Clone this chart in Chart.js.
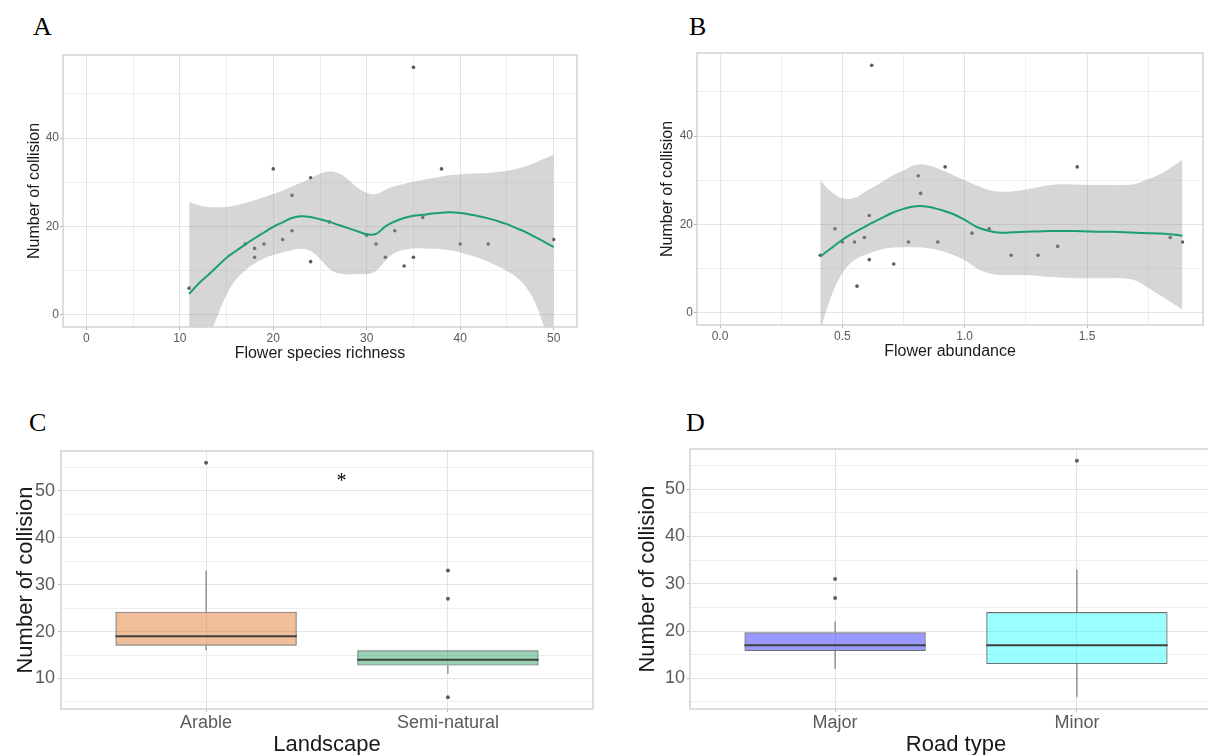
<!DOCTYPE html>
<html>
<head>
<meta charset="utf-8">
<title>Number of collisions</title>
<script src="https://cdn.jsdelivr.net/npm/chart.js@4.4.1/dist/chart.umd.min.js"></script>
<style>
  html, body { margin: 0; padding: 0; background: #fff; width: 1208px; height: 755px; overflow: hidden; position: relative; }
  .panel { position: absolute; }
  .tag { position: absolute; font: 26px "Liberation Serif", "Times New Roman", serif; line-height: 1; color: #000; }
</style>
</head>
<body>
<div class="tag" style="left:33px;top:14px">A</div>
<div class="tag" style="left:689px;top:14px">B</div>
<div class="tag" style="left:29px;top:410px">C</div>
<div class="tag" style="left:686px;top:410px">D</div>

<div class="panel" style="left:0;top:0"><canvas id="chartA" width="604" height="377"></canvas></div>
<div class="panel" style="left:604px;top:0"><canvas id="chartB" width="604" height="377"></canvas></div>
<div class="panel" style="left:0;top:377px"><canvas id="chartC" width="604" height="385"></canvas></div>
<div class="panel" style="left:604px;top:377px"><canvas id="chartD" width="622" height="385"></canvas></div>

<script>
const FONT = '"Liberation Sans", Arial, sans-serif';

// A: collisions against flower species richness, with loess fit and 95% band
const richness = [11, 17, 18, 18, 19, 20, 21, 22, 22, 24, 24, 26, 30, 31, 32, 33, 34, 35, 35, 36, 38, 40, 43, 50];
const richnessCollisions = [6, 16, 15, 13, 16, 33, 17, 27, 19, 31, 12, 21, 18, 16, 13, 19, 11, 56, 13, 22, 33, 16, 16, 17];
const richnessFitX = [11, 12, 13, 14, 15, 16, 17, 18, 19, 20, 21, 22, 23, 24, 25, 26, 27, 28, 29, 30,
  31, 32, 33, 34, 35, 36, 37, 38, 39, 40, 41, 42, 43, 44, 45, 46, 47, 48, 49, 50];
const richnessFit = [4.7, 7.0, 8.9, 10.9, 12.9, 14.4, 15.9, 17.3, 18.6, 19.9, 20.9, 21.9, 22.3, 22.1, 21.6, 21.0, 20.3, 19.6, 18.9, 18.2,
  18.3, 20.0, 21.1, 21.9, 22.4, 22.6, 22.9, 23.1, 23.2, 23.0, 22.7, 22.3, 21.8, 21.2, 20.5, 19.6, 18.7, 17.6, 16.5, 15.3];
const richnessUpper = [25.5, 24.8, 24.4, 24.3, 24.4, 24.8, 25.3, 25.9, 26.6, 27.3, 28.1, 29.0, 29.9, 30.9, 31.9, 32.4, 32.0, 30.6, 28.8, 27.6,
  27.3, 28.3, 29.1, 29.6, 30.1, 30.5, 30.9, 31.3, 31.6, 31.8, 31.9, 32.0, 32.1, 32.3, 32.6, 33.0, 33.6, 34.4, 35.3, 36.2];
const richnessLower = [-20, -12, -6, -0.5, 4.5, 7.9, 10.0, 11.6, 12.7, 13.5, 14.1, 14.6, 14.9, 14.4, 12.6, 10.4, 9.3, 9.1, 9.2, 9.2,
  9.9, 12.2, 14.0, 14.7, 15.0, 15.0, 14.9, 14.8, 14.5, 14.1, 13.5, 12.8, 12.0, 11.0, 9.9, 8.5, 6.3, 2.8, -3.0, -10];
const richnessTicks = [0, 10, 20, 30, 40, 50];
const richnessGrid = [0, 5, 10, 15, 20, 25, 30, 35, 40, 45, 50];

// B: collisions against flower abundance
const abundance = [0.41, 0.47, 0.50, 0.55, 0.56, 0.59, 0.61, 0.61, 0.62, 0.71, 0.77, 0.81, 0.82, 0.89, 0.92,
  1.03, 1.10, 1.19, 1.30, 1.38, 1.46, 1.84, 1.89];
const abundanceCollisions = [13, 19, 16, 16, 6, 17, 22, 12, 56, 11, 16, 31, 27, 16, 33, 18, 19, 13, 13, 15, 33, 17, 16];
const abundanceFitX = [0.41, 0.45, 0.50, 0.55, 0.60, 0.65, 0.70, 0.75, 0.80, 0.85, 0.90, 0.95, 1.00, 1.05, 1.10, 1.15,
  1.20, 1.25, 1.30, 1.35, 1.40, 1.45, 1.50, 1.55, 1.60, 1.65, 1.70, 1.75, 1.80, 1.85, 1.89];
const abundanceFit = [12.7, 14.4, 16.5, 18.2, 19.7, 21.1, 22.5, 23.5, 24.1, 24.0, 23.3, 22.4, 21.0, 19.4, 18.5, 18.1,
  18.2, 18.3, 18.4, 18.5, 18.5, 18.5, 18.4, 18.3, 18.3, 18.2, 18.1, 18.0, 17.9, 17.7, 17.4];
const abundanceUpper = [30.0, 27.6, 25.9, 26.0, 27.6, 29.2, 30.9, 32.2, 33.5, 33.4, 32.4, 31.2, 30.0, 28.8, 27.8, 27.4,
  27.5, 27.9, 28.4, 28.9, 29.1, 29.0, 28.9, 28.9, 28.9, 28.9, 29.2, 30.2, 31.4, 33.1, 34.6];
const abundanceLower = [-4, 3.0, 8.9, 11.9, 13.2, 14.2, 14.7, 14.8, 14.8, 14.6, 14.1, 13.1, 11.9, 10.0, 8.9, 8.5,
  8.5, 8.5, 8.3, 8.1, 7.9, 7.8, 7.8, 7.8, 7.8, 7.8, 7.2, 5.6, 3.9, 2.1, 0.6];
const abundanceTicks = [0, 0.5, 1, 1.5];
const abundanceGrid = [0, 0.25, 0.5, 0.75, 1, 1.25, 1.5, 1.75];

const collisionTicks = [0, 20, 40];
const collisionGrid = [0, 10, 20, 30, 40, 50];

// C: landscape boxplots
const landscapes = ['Arable', 'Semi-natural'];
const landQ1 = [17, 12.75];
const landMedian = [19, 14];
const landQ3 = [24.25, 16];
const landWhiskerLow = [16, 11];
const landWhiskerHigh = [33, 16];
const landOutliers = [[56], [33, 27, 6]];
const landSignif = { x: 1.56, y: 52, text: '*' };

// D: road type boxplots
const roadTypes = ['Major', 'Minor'];
const roadQ1 = [15.75, 13];
const roadMedian = [17, 17];
const roadQ3 = [19.75, 24];
const roadWhiskerLow = [12, 6];
const roadWhiskerHigh = [22, 33];
const roadOutliers = [[31, 27], [56]];

const boxTicks = [10, 20, 30, 40, 50];
const boxGrid = [5, 10, 15, 20, 25, 30, 35, 40, 45, 50, 55];

const pairs = (xs, ys) => xs.map((x, i) => ({ x, y: ys[i] }));

// linear axis with ggplot-like major/minor grid
function axis({ min, max, lines, labelled, format, title, tickSize, titleSize, size, pad }) {
  return {
    type: 'linear', min, max, offset: false,
    afterBuildTicks: s => { s.ticks = lines.map(value => ({ value })); },
    afterFit: s => { if (s.isHorizontal()) s.height = size; else s.width = size; },
    border: { display: false },
    grid: {
      offset: false,
      lineWidth: 1,
      tickLength: 3,
      color: c => labelled.includes(c.tick.value) ? '#e4e4e4' : '#efefef',
      tickColor: c => labelled.includes(c.tick.value) ? '#b8b8b8' : 'rgba(0,0,0,0)'
    },
    ticks: {
      autoSkip: false, maxRotation: 0, minRotation: 0, padding: pad,
      color: '#5a5a5a', font: { family: FONT, size: tickSize },
      callback: v => labelled.includes(v) ? format(v) : ''
    },
    title: { display: true, text: title, padding: 0, color: '#1a1a1a', font: { family: FONT, size: titleSize } }
  };
}

const panelBorder = {
  id: 'panelBorder',
  afterDatasetsDraw(chart) {
    const { ctx, chartArea: a } = chart;
    ctx.save();
    ctx.strokeStyle = '#d2d2d2';
    ctx.lineWidth = 1.5;
    ctx.strokeRect(a.left, a.top, a.right - a.left, a.bottom - a.top);
    ctx.restore();
  }
};

const medianLines = {
  id: 'medianLines',
  afterDatasetsDraw(chart) {
    const { ctx } = chart;
    const y = chart.scales.y;
    chart.data.datasets.forEach((ds, i) => {
      if (!ds.medians) return;
      ctx.save();
      ctx.strokeStyle = '#3f3f3f';
      ctx.lineWidth = 2;
      chart.getDatasetMeta(i).data.forEach((bar, j) => {
        const py = y.getPixelForValue(ds.medians[j]);
        ctx.beginPath();
        ctx.moveTo(bar.x - bar.width / 2, py);
        ctx.lineTo(bar.x + bar.width / 2, py);
        ctx.stroke();
      });
      ctx.restore();
    });
  }
};

const signifMark = {
  id: 'signifMark',
  afterDatasetsDraw(chart, args, opts) {
    if (!opts.text) return;
    const { ctx, scales } = chart;
    ctx.save();
    ctx.fillStyle = '#000';
    ctx.font = '20px "Liberation Serif", serif';
    ctx.textAlign = 'center';
    ctx.textBaseline = 'middle';
    ctx.fillText(opts.text, scales.x.getPixelForValue(opts.x), scales.y.getPixelForValue(opts.y));
    ctx.restore();
  }
};

function smoothChart(id, cfg) {
  return new Chart(document.getElementById(id), {
    type: 'scatter',
    data: {
      datasets: [
        { type: 'line', data: pairs(cfg.fitX, cfg.fit), borderColor: '#1b9e77', borderWidth: 2, pointRadius: 0, tension: 0.4, fill: false },
        { type: 'line', data: pairs(cfg.fitX, cfg.upper), borderColor: 'rgba(0,0,0,0)', borderWidth: 0, pointRadius: 0, tension: 0.4,
          fill: '+1', backgroundColor: 'rgba(153,153,153,0.4)' },
        { type: 'line', data: pairs(cfg.fitX, cfg.lower), borderColor: 'rgba(0,0,0,0)', borderWidth: 0, pointRadius: 0, tension: 0.4, fill: false },
        { data: pairs(cfg.x, cfg.y), pointRadius: 1.8, backgroundColor: '#5a5a5a', borderWidth: 0 }
      ]
    },
    options: {
      responsive: false, animation: false, events: [],
      layout: { padding: cfg.padding },
      plugins: { legend: { display: false }, tooltip: { enabled: false } },
      scales: { x: cfg.xAxis, y: cfg.yAxis }
    },
    plugins: [panelBorder]
  });
}

function boxChart(id, cfg) {
  const at = v => v.map((_, i) => i + 1);
  const outliers = [];
  cfg.outliers.forEach((vals, i) => vals.forEach(y => outliers.push({ x: i + 1, y })));
  return new Chart(document.getElementById(id), {
    type: 'bar',
    data: {
      datasets: [
        { type: 'scatter', data: outliers, pointRadius: 2, backgroundColor: '#5f5f5f', borderWidth: 0 },
        { data: at(cfg.q1).map((x, i) => ({ x, y: [cfg.q1[i], cfg.q3[i]] })), medians: cfg.median,
          backgroundColor: cfg.fills, borderColor: '#707070', borderWidth: 1.2, borderSkipped: false,
          grouped: false, barPercentage: 0.75, categoryPercentage: 1 },
        { data: at(cfg.q1).map((x, i) => ({ x, y: [cfg.low[i], cfg.q1[i]] })), backgroundColor: '#666',
          grouped: false, maxBarThickness: 1 },
        { data: at(cfg.q3).map((x, i) => ({ x, y: [cfg.q3[i], cfg.high[i]] })), backgroundColor: '#666',
          grouped: false, maxBarThickness: 1 }
      ]
    },
    options: {
      responsive: false, animation: false, events: [],
      layout: { padding: cfg.padding },
      plugins: { legend: { display: false }, tooltip: { enabled: false }, signifMark: cfg.mark || {} },
      scales: {
        x: axis({ min: 0.4, max: 2.6, lines: [1, 2], labelled: [1, 2], format: v => cfg.names[v - 1],
          title: cfg.xTitle, tickSize: 18, titleSize: 22, size: 49.2, pad: 0 }),
        y: axis({ min: 3.5, max: 58.5, lines: boxGrid, labelled: boxTicks, format: v => String(v),
          title: 'Number of collision', tickSize: 18, titleSize: 22, size: cfg.yWidth, pad: cfg.yPad })
      }
    },
    plugins: [panelBorder, medianLines, signifMark]
  });
}

smoothChart('chartA', {
  x: richness, y: richnessCollisions,
  fitX: richnessFitX, fit: richnessFit, upper: richnessUpper, lower: richnessLower,
  padding: { left: 25, top: 55, right: 27, bottom: 13.4 },
  xAxis: axis({ min: -2.5, max: 52.5, lines: richnessGrid, labelled: richnessTicks, format: v => String(v),
    title: 'Flower species richness', tickSize: 12, titleSize: 16, size: 36.6, pad: 1 }),
  yAxis: axis({ min: -2.8, max: 58.8, lines: collisionGrid, labelled: collisionTicks, format: v => String(v),
    title: 'Number of collision', tickSize: 12, titleSize: 16, size: 38, pad: 1 })
});

smoothChart('chartB', {
  x: abundance, y: abundanceCollisions,
  fitX: abundanceFitX, fit: abundanceFit, upper: abundanceUpper, lower: abundanceLower,
  padding: { left: 54.4, top: 53, right: 5, bottom: 15.4 },
  xAxis: axis({ min: -0.094, max: 1.974, lines: abundanceGrid, labelled: abundanceTicks, format: v => v.toFixed(1),
    title: 'Flower abundance', tickSize: 12, titleSize: 16, size: 36.6, pad: 1 }),
  yAxis: axis({ min: -2.8, max: 58.8, lines: collisionGrid, labelled: collisionTicks, format: v => String(v),
    title: 'Number of collision', tickSize: 12, titleSize: 16, size: 38.6, pad: 1 })
});

boxChart('chartC', {
  names: landscapes, q1: landQ1, median: landMedian, q3: landQ3, low: landWhiskerLow, high: landWhiskerHigh,
  outliers: landOutliers, fills: ['rgba(217,95,2,0.4)', 'rgba(27,158,90,0.45)'],
  xTitle: 'Landscape', mark: landSignif,
  padding: { left: 12.8, top: 74, right: 11, bottom: 3.8 }, yWidth: 48.2, yPad: 3
});

boxChart('chartD', {
  names: roadTypes, q1: roadQ1, median: roadMedian, q3: roadQ3, low: roadWhiskerLow, high: roadWhiskerHigh,
  outliers: roadOutliers, fills: ['rgba(0,0,255,0.4)', 'rgba(0,255,255,0.4)'],
  xTitle: 'Road type',
  padding: { left: 30.8, top: 72, right: 4, bottom: 3.8 }, yWidth: 55.2, yPad: 2
});
</script>
</body>
</html>
